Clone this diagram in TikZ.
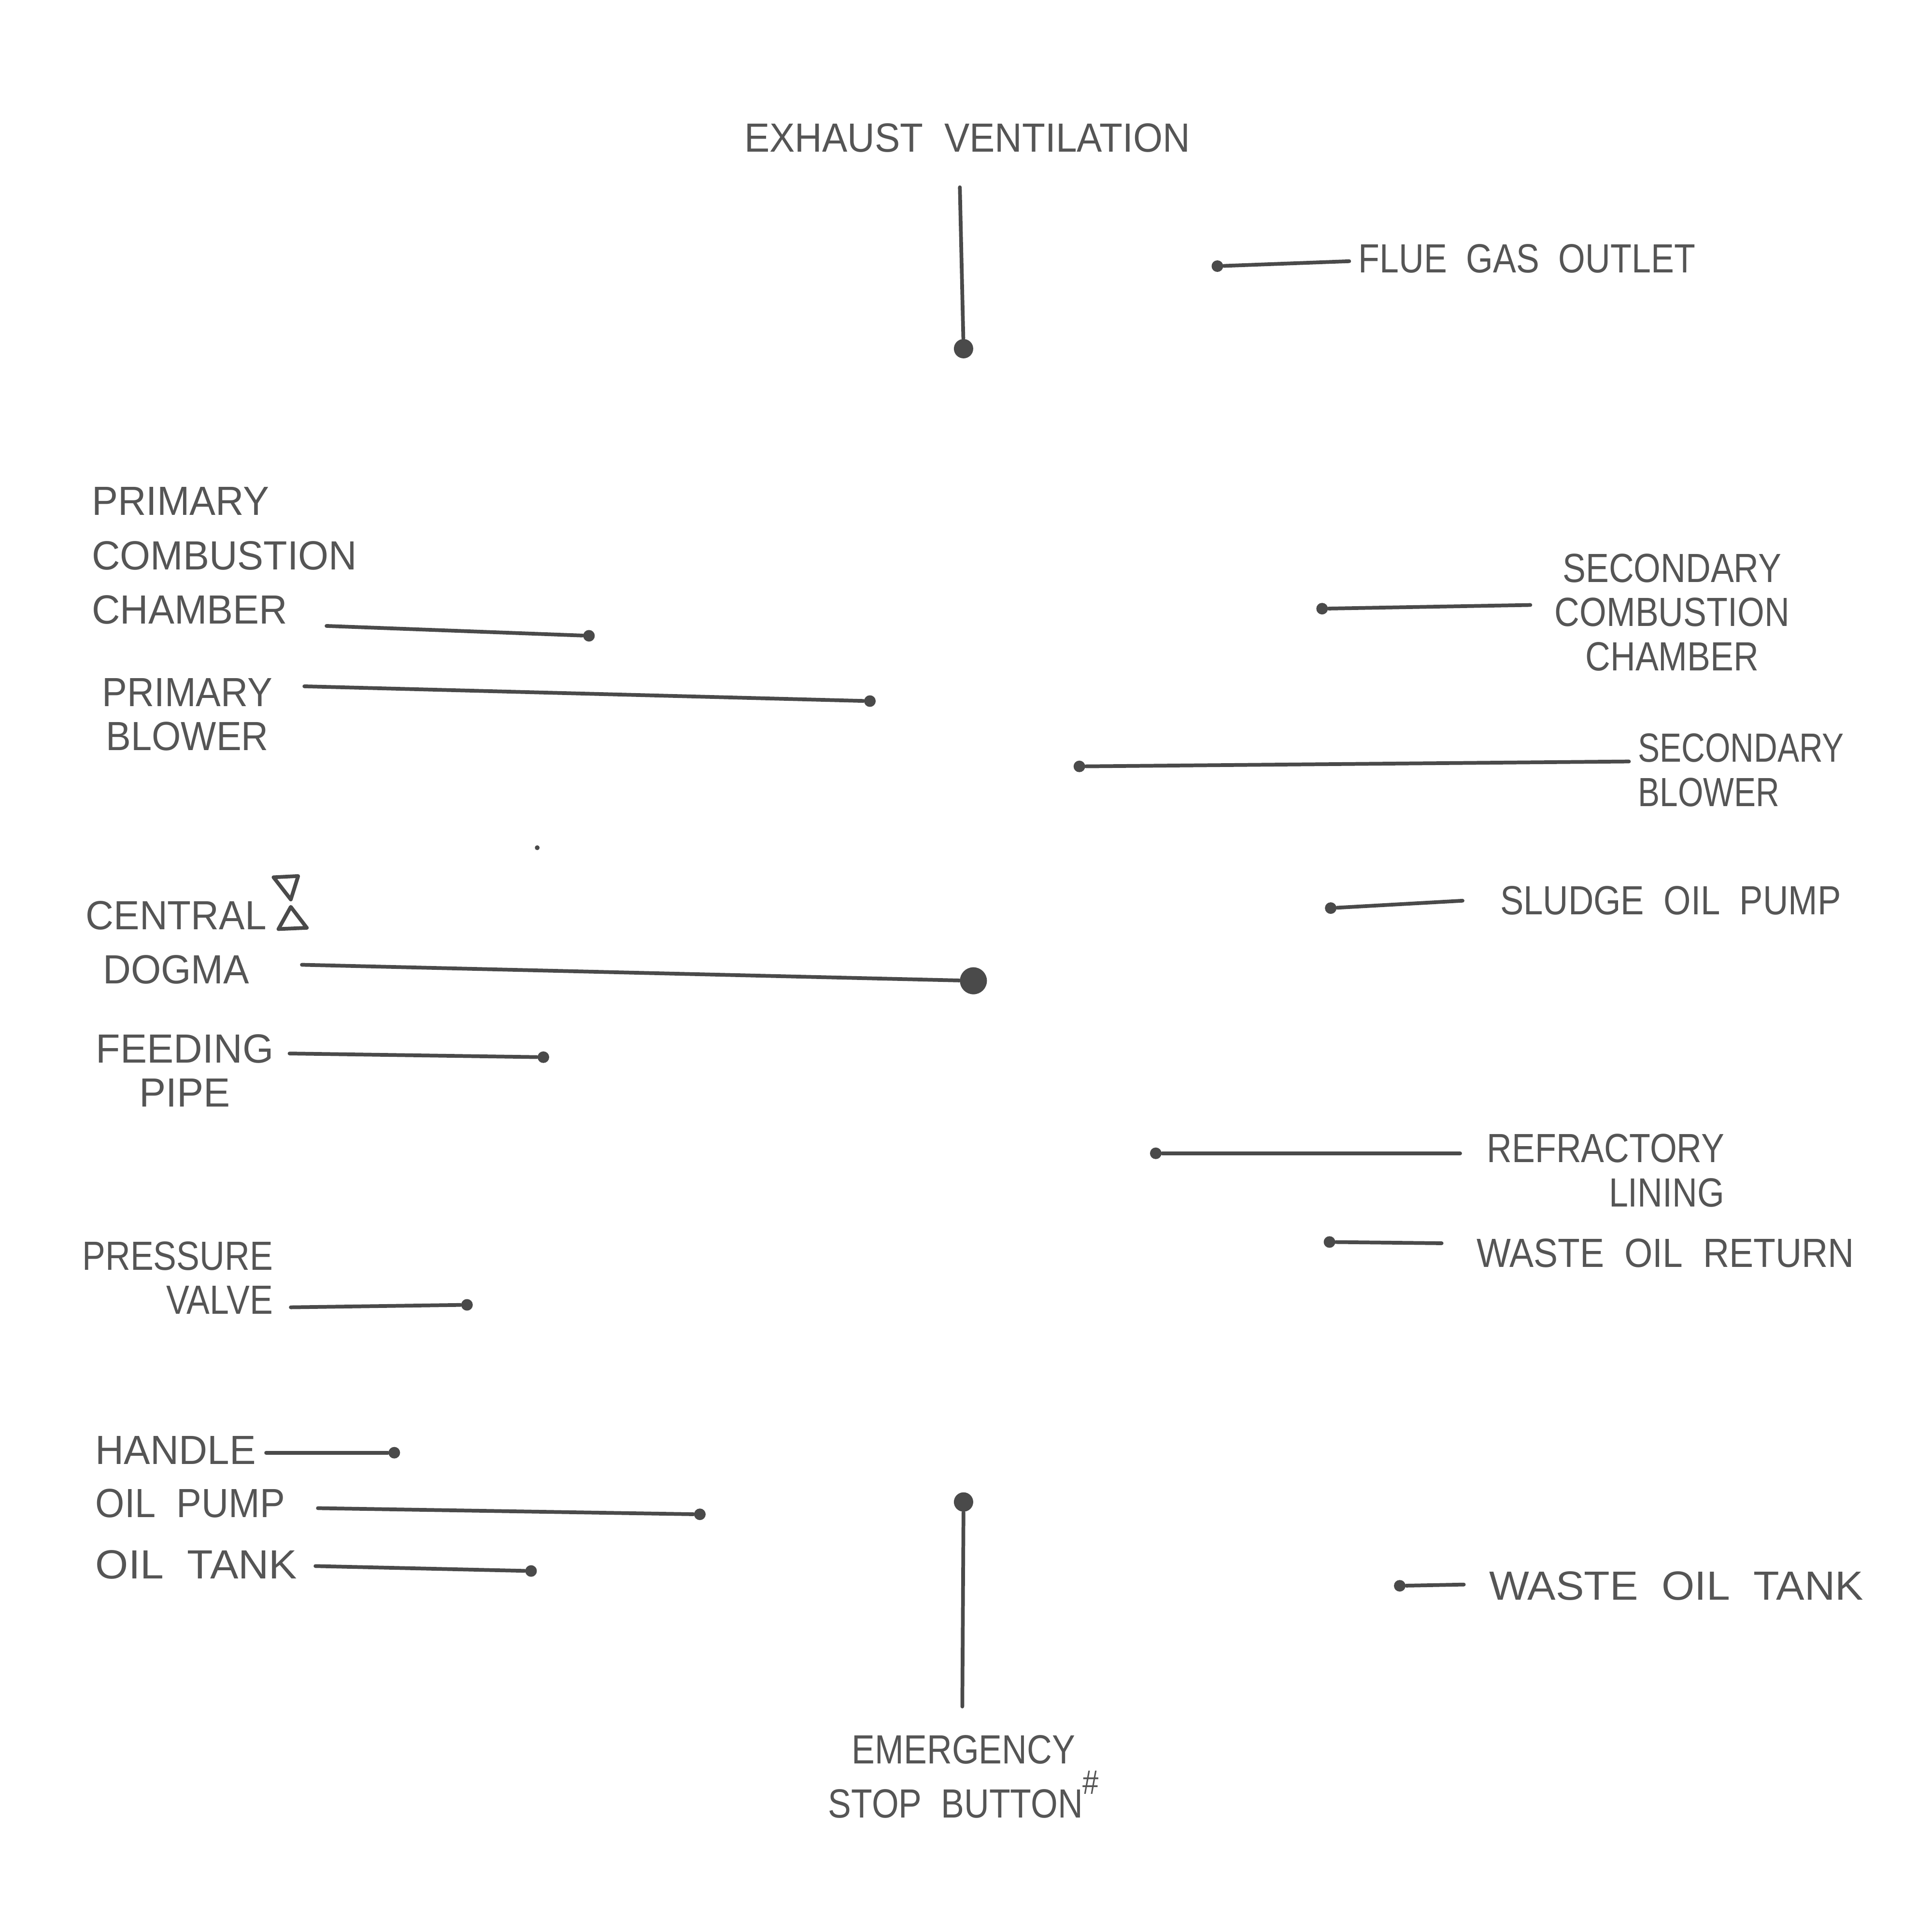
\documentclass[tikz,border=0pt]{standalone}
\usepackage{fontspec}
\setmainfont{Liberation Sans}
\definecolor{ink}{HTML}{4A4A4A}
\definecolor{txt}{HTML}{555555}
\tikzset{
  lbl/.style={text=txt, inner sep=0pt, font=\fontsize{12}{13}\selectfont\addfontfeatures{FakeStretch=#1}},
  lbl/.default=1,
  lblw/.style={text=txt, inner sep=0pt, font=\fontsize{12}{16}\selectfont\addfontfeatures{FakeStretch=#1}},
  lblw/.default=1,
  lead/.style={draw=ink, line width=1.1pt, line cap=round},
  dotS/.style={circle, fill=ink, inner sep=0pt, minimum size=0.12cm},
  dotM/.style={circle, fill=ink, inner sep=0pt, minimum size=0.2cm},
  dotL/.style={circle, fill=ink, inner sep=0pt, minimum size=0.28cm},
  tri/.style={draw=ink, line width=1.1pt, line join=round}
}
\begin{document}
\begin{tikzpicture}[x=0.012755cm, y=-0.012755cm]
\useasboundingbox (0,0) rectangle (1568,1568);

% Exhaust ventilation
\node[lbl=0.93] (exh) at (785,112) {EXHAUST\ \ VENTILATION};
\coordinate (exhS) at (779,152);
\node[dotM] (exhD) at (782,283) {};
\draw[lead] (exhS) -- (exhD);

% Flue gas outlet
\node[lbl=0.85, anchor=west] (flue) at (1102,210) {FLUE\ \ GAS\ \ OUTLET};
\node[dotS] (flueD) at (988,216) {};
\coordinate (flueS) at (1095,212);
\draw[lead] (flueD) -- (flueS);

% Primary combustion chamber
\node[lblw=0.96, anchor=west, align=left] (pcc) at (74,451) {PRIMARY\\COMBUSTION\\CHAMBER};
\coordinate (pccS) at (265,508);
\node[dotS] (pccD) at (478,516) {};
\draw[lead] (pccS) -- (pccD);

% Primary blower
\node[lbl=0.92, align=center] (pb) at (152,580) {PRIMARY\\BLOWER};
\coordinate (pbS) at (247,557);
\node[dotS] (pbD) at (706,569) {};
\draw[lead] (pbS) -- (pbD);

% Secondary combustion chamber
\node[lbl=0.85, align=center] (scc) at (1357,497) {SECONDARY\\COMBUSTION\\CHAMBER};
\node[dotS] (sccD) at (1073,494) {};
\coordinate (sccS) at (1242,491);
\draw[lead] (sccD) -- (sccS);

% Secondary blower
\node[lbl=0.8, anchor=west, align=left] (sb) at (1329,625) {SECONDARY\\BLOWER};
\node[dotS] (sbD) at (876,622) {};
\coordinate (sbS) at (1322,618);
\draw[lead] (sbD) -- (sbS);

% Sludge oil pump
\node[lbl=0.86, anchor=west] (sop) at (1217,731) {SLUDGE\ \ OIL\ \ PUMP};
\node[dotS] (sopD) at (1080,737) {};
\coordinate (sopS) at (1187,731);
\draw[lead] (sopD) -- (sopS);

% stray dot
\node[circle, fill=ink, inner sep=0pt, minimum size=0.05cm] (speck) at (436,688) {};

% Central dogma
\node[lblw=0.95, align=center] (cd) at (143,765) {CENTRAL\\DOGMA};
\draw[tri] (222,712) -- (242,711) -- (236,730) -- cycle;
\draw[tri] (236,736) -- (226,754) -- (249,753) -- cycle;
\coordinate (cdS) at (245,783);
\node[dotL] (cdD) at (790,796) {};
\draw[lead] (cdS) -- (cdD);

% Feeding pipe
\node[lbl=0.98, align=center] (fp) at (150,869) {FEEDING\\PIPE};
\coordinate (fpS) at (235,855);
\node[dotS] (fpD) at (441,858) {};
\draw[lead] (fpS) -- (fpD);

% Refractory lining
\node[lbl=0.85, anchor=east, align=right] (rl) at (1400,950) {REFRACTORY\\LINING};
\node[dotS] (rlD) at (938,936) {};
\coordinate (rlS) at (1185,936);
\draw[lead] (rlD) -- (rlS);

% Waste oil return
\node[lbl=0.89, anchor=west] (wor) at (1198,1017) {WASTE\ \ OIL\ \ RETURN};
\node[dotS] (worD) at (1079,1008) {};
\coordinate (worS) at (1170,1009);
\draw[lead] (worD) -- (worS);

% Pressure valve
\node[lbl=0.85, anchor=east, align=right] (pv) at (222,1037) {PRESSURE\\VALVE};
\coordinate (pvS) at (236,1061);
\node[dotS] (pvD) at (379,1059) {};
\draw[lead] (pvS) -- (pvD);

% Handle
\node[lbl=0.97, anchor=west] (hd) at (77,1177) {HANDLE};
\coordinate (hdS) at (216,1179);
\node[dotS] (hdD) at (320,1179) {};
\draw[lead] (hdS) -- (hdD);

% Oil pump
\node[lbl=0.92, anchor=west] (op) at (77,1220) {OIL\ \ PUMP};
\coordinate (opS) at (258,1224);
\node[dotS] (opD) at (568,1229) {};
\draw[lead] (opS) -- (opD);

% Oil tank
\node[lbl=1.04, anchor=west] (ot) at (77,1270) {OIL\ \ TANK};
\coordinate (otS) at (256,1271);
\node[dotS] (otD) at (431,1275) {};
\draw[lead] (otS) -- (otD);

% Emergency stop button
\node[dotM] (esD) at (782,1219) {};
\coordinate (esS) at (781,1385);
\draw[lead] (esD) -- (esS);
\node[lblw=0.85, align=center] (es) at (782,1442) {EMERGENCY\\STOP\ \ BUTTON\raisebox{1.1ex}{\fontsize{10}{10}\selectfont\#}};

% Waste oil tank
\node[lbl=1.04, anchor=west] (wot) at (1208,1287) {WASTE\ \ OIL\ \ TANK};
\node[dotS] (wotD) at (1136,1287) {};
\coordinate (wotS) at (1188,1286);
\draw[lead] (wotD) -- (wotS);
\end{tikzpicture}
\end{document}
